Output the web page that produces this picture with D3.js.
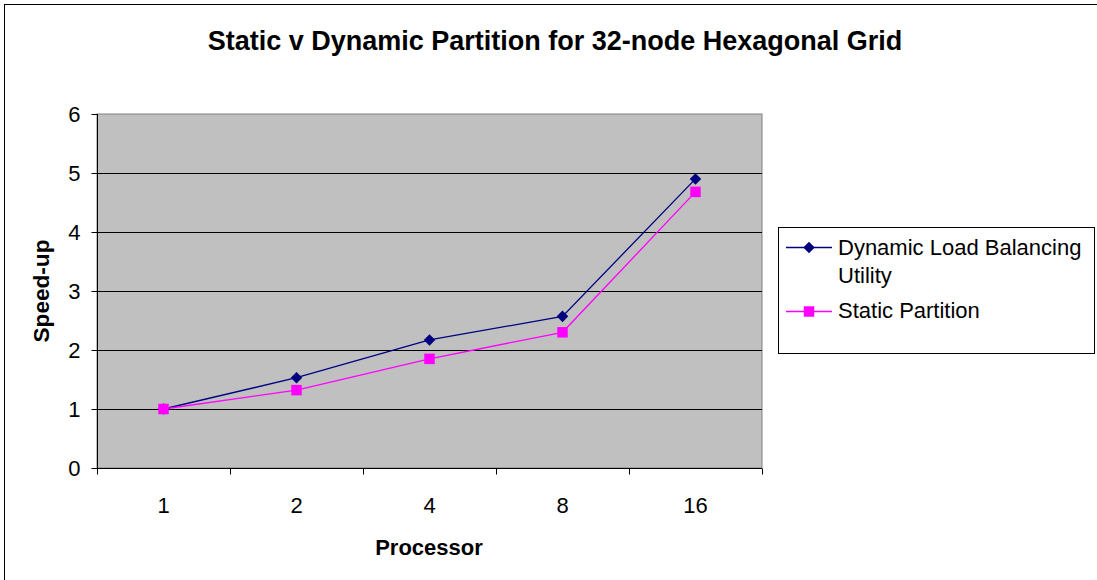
<!DOCTYPE html>
<html>
<head>
<meta charset="utf-8">
<script src="https://cdn.jsdelivr.net/npm/d3@7"></script>
<style>
  body { margin: 0; background: #fff; }
  text { font-family: "Liberation Sans", Arial, sans-serif; fill: #000; }
</style>
</head>
<body>
<div id="chart"></div>
<script>
// data
var processors = ["1", "2", "4", "8", "16"];
var dynamicSpeedup = [1.0, 1.53, 2.17, 2.57, 4.90];
var staticSpeedup = [1.0, 1.32, 1.85, 2.30, 4.68];
var yTicks = [0, 1, 2, 3, 4, 5, 6];
var seriesNames = ["Dynamic Load Balancing Utility", "Static Partition"];

const width = 1097, height = 580;
const plotLeft = 97, plotRight = 762, plotTop = 114, plotBottom = 468;
const labelSize = "22px";

const svg = d3.select("#chart").append("svg")
  .attr("width", width)
  .attr("height", height);

// outer chart border (only left/top visible in frame)
svg.append("rect")
  .attr("x", 4.5).attr("y", 4.5)
  .attr("width", 1110).attr("height", 600)
  .attr("fill", "#fff")
  .attr("stroke", "#000")
  .attr("stroke-width", 1);

const xScale = d3.scaleBand().domain(processors).range([plotLeft, plotRight]);
const yScale = d3.scaleLinear().domain([0, 6]).range([plotBottom, plotTop]);

// plot background
svg.append("rect")
  .attr("x", plotLeft).attr("y", plotTop)
  .attr("width", plotRight - plotLeft).attr("height", plotBottom - plotTop)
  .attr("fill", "#c0c0c0")
  .attr("stroke", "#808080");

// gridlines
svg.append("g").selectAll("line")
  .data(yTicks.filter(d => d > 0 && d < 6))
  .enter().append("line")
  .attr("x1", plotLeft).attr("x2", plotRight)
  .attr("y1", d => Math.round(yScale(d)) + 0.5)
  .attr("y2", d => Math.round(yScale(d)) + 0.5)
  .attr("stroke", "#000");

// y axis
const yAxis = d3.axisLeft(yScale).tickValues(yTicks).tickFormat(d3.format("d"))
  .tickSize(6).tickPadding(11);
const yAxisGroup = svg.append("g")
  .attr("transform", "translate(" + (plotLeft + 0.5) + ",0)")
  .call(yAxis);
yAxisGroup.select(".domain").remove();
yAxisGroup.append("line")
  .attr("x1", 0).attr("x2", 0).attr("y1", plotTop).attr("y2", plotBottom)
  .attr("stroke", "#000");
yAxisGroup.selectAll("text")
  .style("font-size", labelSize)
  .style("font-family", "Liberation Sans, Arial, sans-serif")
  .attr("fill", "#000");

// x axis
const xAxis = d3.axisBottom(xScale).tickSize(0).tickPadding(29);
const xAxisGroup = svg.append("g")
  .attr("transform", "translate(0," + (plotBottom + 0.5) + ")")
  .call(xAxis);
xAxisGroup.select(".domain").remove();
xAxisGroup.append("line")
  .attr("x1", plotLeft).attr("x2", plotRight).attr("y1", 0).attr("y2", 0)
  .attr("stroke", "#000");
xAxisGroup.selectAll(".boundary")
  .data(d3.range(processors.length + 1))
  .enter().append("line")
  .attr("x1", i => Math.round(plotLeft + i * xScale.step()) + 0.5)
  .attr("x2", i => Math.round(plotLeft + i * xScale.step()) + 0.5)
  .attr("y1", 0).attr("y2", 6)
  .attr("stroke", "#000");
xAxisGroup.selectAll("text")
  .style("font-size", labelSize)
  .style("font-family", "Liberation Sans, Arial, sans-serif")
  .attr("fill", "#000");

// series
const cx = (d, i) => xScale(processors[i]) + xScale.bandwidth() / 2;
const line = d3.line().x(cx).y(d => yScale(d));

svg.append("path").datum(dynamicSpeedup)
  .attr("d", line).attr("fill", "none")
  .attr("stroke", "#000080").attr("stroke-width", 1.3);
svg.append("path").datum(staticSpeedup)
  .attr("d", line).attr("fill", "none")
  .attr("stroke", "#ff00ff").attr("stroke-width", 1.3);

const diamond = d3.symbol().type(d3.symbolDiamond2).size(85);
const square = d3.symbol().type(d3.symbolSquare).size(110);

svg.selectAll(".dyn").data(dynamicSpeedup).enter().append("path")
  .attr("class", "dyn")
  .attr("d", diamond)
  .attr("transform", (d, i) => "translate(" + cx(d, i) + "," + yScale(d) + ")")
  .attr("fill", "#000080");
svg.selectAll(".stat").data(staticSpeedup).enter().append("path")
  .attr("class", "stat")
  .attr("d", square)
  .attr("transform", (d, i) => "translate(" + cx(d, i) + "," + yScale(d) + ")")
  .attr("fill", "#ff00ff");

// title
svg.append("text")
  .attr("x", 555).attr("y", 50)
  .attr("text-anchor", "middle")
  .style("font-size", "27px").style("font-weight", "bold")
  .text("Static v Dynamic Partition for 32-node Hexagonal Grid");

// axis titles
svg.append("text")
  .attr("x", 429).attr("y", 555)
  .attr("text-anchor", "middle")
  .style("font-size", labelSize).style("font-weight", "bold")
  .text("Processor");
svg.append("text")
  .attr("transform", "translate(49,291) rotate(-90)")
  .attr("text-anchor", "middle")
  .attr("textLength", 103).attr("lengthAdjust", "spacingAndGlyphs")
  .style("font-size", labelSize).style("font-weight", "bold")
  .text("Speed-up");

// legend
const legend = svg.append("g");
legend.append("rect")
  .attr("x", 778.5).attr("y", 227.5)
  .attr("width", 316).attr("height", 126)
  .attr("fill", "#fff").attr("stroke", "#000");

legend.append("line").attr("x1", 786).attr("x2", 832).attr("y1", 247.5).attr("y2", 247.5)
  .attr("stroke", "#000080").attr("stroke-width", 1.3);
legend.append("path").attr("d", diamond).attr("transform", "translate(809,247.5)").attr("fill", "#000080");
legend.append("text").attr("x", 838).attr("y", 255).style("font-size", labelSize)
  .text("Dynamic Load Balancing");
legend.append("text").attr("x", 838).attr("y", 283).style("font-size", labelSize)
  .text("Utility");

legend.append("line").attr("x1", 786).attr("x2", 832).attr("y1", 311.5).attr("y2", 311.5)
  .attr("stroke", "#ff00ff").attr("stroke-width", 1.3);
legend.append("path").attr("d", square).attr("transform", "translate(809,311.5)").attr("fill", "#ff00ff");
legend.append("text").attr("x", 838).attr("y", 318).style("font-size", labelSize)
  .text(seriesNames[1]);
</script>
</body>
</html>
